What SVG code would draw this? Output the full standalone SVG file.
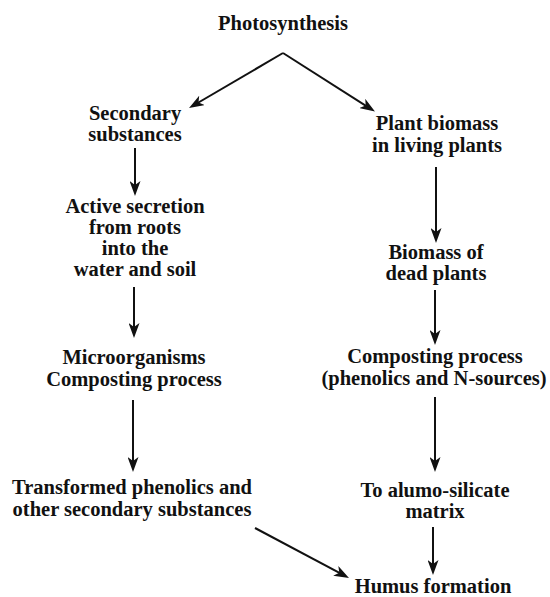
<svg xmlns="http://www.w3.org/2000/svg" width="550" height="597" viewBox="0 0 550 597">
<style>
text{font-family:"Liberation Serif","Times New Roman",serif;font-weight:bold;font-size:20.5px;fill:#111;text-anchor:middle}
.c{stroke:#111;stroke-width:2;fill:none;marker-end:url(#ah)}
</style>
<defs>
<marker id="ah" markerUnits="userSpaceOnUse" markerWidth="15" markerHeight="11" refX="9" refY="5.5" orient="auto" viewBox="0 0 15 11">
<path d="M0,0 L15,5.5 L0,11 L4,5.5 z" fill="#111"/>
</marker>
</defs>
<rect width="550" height="597" fill="#fff"/>
<g id="connectors">
<path class="c" d="M283,53 L194.2,105"/>
<path class="c" d="M283,53 L369.9,108.3"/>
<path class="c" d="M135,148 L135,190"/>
<path class="c" d="M134,287 L134,332"/>
<path class="c" d="M133,400 L133,466"/>
<path class="c" d="M255,528 L343.7,575.2"/>
<path class="c" d="M436,167 L436,237"/>
<path class="c" d="M435,290 L435,339"/>
<path class="c" d="M435,397 L435,466"/>
<path class="c" d="M433,527 L433,569"/>
</g>
<g id="photosynthesis"><text x="283" y="30">Photosynthesis</text></g>
<g id="secondary"><text x="135" y="120">Secondary</text><text x="135" y="141">substances</text></g>
<g id="secretion"><text x="135" y="213">Active secretion</text><text x="135" y="234">from roots</text><text x="135" y="255">into the</text><text x="135" y="276">water and soil</text></g>
<g id="microorganisms"><text x="134" y="364">Microorganisms</text><text x="134" y="386">Composting process</text></g>
<g id="transformed"><text x="132" y="494">Transformed phenolics and</text><text x="132" y="516">other secondary substances</text></g>
<g id="plant-biomass"><text x="437" y="130">Plant biomass</text><text x="437" y="152">in living plants</text></g>
<g id="dead-biomass"><text x="436" y="259">Biomass of</text><text x="436" y="280">dead plants</text></g>
<g id="composting"><text x="435" y="363">Composting process</text><text x="434" y="385">(phenolics and N-sources)</text></g>
<g id="alumo"><text x="435" y="497">To alumo-silicate</text><text x="435" y="518">matrix</text></g>
<g id="humus"><text x="433" y="593">Humus formation</text></g>
</svg>
